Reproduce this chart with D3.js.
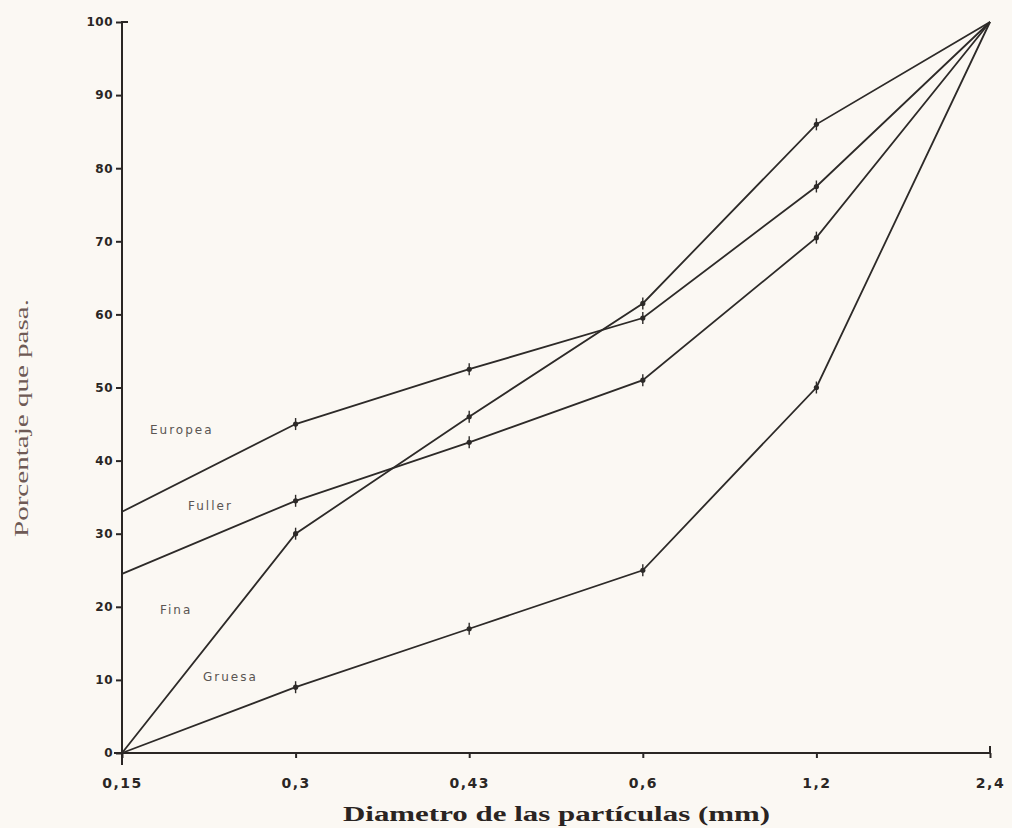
<!DOCTYPE html>
<html>
<head>
<meta charset="utf-8">
<script src="https://cdn.jsdelivr.net/npm/d3@7"></script>
<style>
  body { margin: 0; background: #fbf8f3; }
  svg { display: block; }
  .tick text { font-family: "DejaVu Sans", sans-serif; font-weight: bold; fill: #2a2624; }
  .axis path, .axis line { stroke: #2a2624; stroke-width: 2; }
  .curve-label { font-family: "DejaVu Sans", sans-serif; font-size: 12px; fill: #5a5552; letter-spacing: 2px; }
</style>
</head>
<body>
<div id="chart"></div>
<script>
// Diametro de las particulas (mm) - categorias del eje X
const diametros = ["0,15", "0,3", "0,43", "0,6", "1,2", "2,4"];
const yTicks = [0, 10, 20, 30, 40, 50, 60, 70, 80, 90, 100];

// Porcentaje que pasa, por curva
const europea = [33, 45, 52.5, 59.5, 77.5, 100];
const fuller = [24.5, 34.5, 42.5, 51, 70.5, 100];
const fina = [0, 30, 46, 61.5, 86, 100];
const gruesa = [0, 9, 17, 25, 50, 100];

const curvas = [
  { name: "Europea", values: europea, lx: 150, ly: 434 },
  { name: "Fuller", values: fuller, lx: 188, ly: 510 },
  { name: "Fina", values: fina, lx: 160, ly: 614 },
  { name: "Gruesa", values: gruesa, lx: 203, ly: 681 }
];

const width = 1012, height = 828;

const svg = d3.select("#chart").append("svg")
  .attr("width", width)
  .attr("height", height);

const x = d3.scalePoint().domain(diametros).range([122, 990]);
const y = d3.scaleLinear().domain([0, 100]).range([753, 22]);

// eje Y
const yAxis = svg.append("g")
  .attr("class", "axis")
  .attr("transform", "translate(122,0)")
  .call(d3.axisLeft(y).tickValues(yTicks).tickSize(6).tickSizeOuter(0).tickPadding(3));
yAxis.selectAll(".tick text").style("font-size", "12px").style("letter-spacing", "0.5px");
yAxis.select(".domain").remove();
yAxis.append("path")
  .attr("d", `M0,${y(0) + 12}V${y(100)}h6`)
  .attr("fill", "none")
  .attr("stroke", "#2a2624")
  .attr("stroke-width", 2.2);

// eje X
const xAxis = svg.append("g")
  .attr("class", "axis")
  .attr("transform", `translate(0,${y(0)})`)
  .call(d3.axisBottom(x).tickSize(5).tickSizeOuter(0).tickPadding(20));
xAxis.selectAll(".tick text").style("font-size", "14px").style("letter-spacing", "1.5px");
xAxis.select(".domain").remove();
xAxis.append("path")
  .attr("d", `M${x("0,15") - 8},0H${x("2,4")}v-7`)
  .attr("fill", "none")
  .attr("stroke", "#2a2624")
  .attr("stroke-width", 2.2);

// curvas granulometricas
const line = d3.line()
  .x((d, i) => x(diametros[i]))
  .y(d => y(d));

curvas.forEach(c => {
  svg.append("path")
    .datum(c.values)
    .attr("d", line)
    .attr("fill", "none")
    .attr("stroke", "#2d2a28")
    .attr("stroke-width", 1.8);

  // marcas en cada punto
  c.values.slice(1, 5).forEach((v, i) => {
    const px = x(diametros[i + 1]), py = y(v);
    svg.append("circle")
      .attr("cx", px).attr("cy", py).attr("r", 2.6)
      .attr("fill", "#2d2a28");
    svg.append("line")
      .attr("x1", px).attr("x2", px)
      .attr("y1", py - 6).attr("y2", py + 6)
      .attr("stroke", "#2d2a28")
      .attr("stroke-width", 1.4);
  });

  svg.append("text")
    .attr("class", "curve-label")
    .attr("x", c.lx)
    .attr("y", c.ly)
    .text(c.name);
});

// titulos de ejes
svg.append("text")
  .attr("x", 343)
  .attr("y", 821)
  .attr("textLength", 427)
  .attr("lengthAdjust", "spacingAndGlyphs")
  .style("font-family", "'Liberation Serif', serif")
  .style("font-weight", "bold")
  .style("font-size", "20px")
  .style("fill", "#2a2422")
  .text("Diametro de las partículas (mm)");

svg.append("text")
  .attr("transform", "translate(28,537) rotate(-90)")
  .attr("textLength", 238)
  .attr("lengthAdjust", "spacingAndGlyphs")
  .style("font-family", "'Liberation Serif', serif")
  .style("font-size", "19px")
  .style("fill", "#6e5a55")
  .text("Porcentaje que pasa.");
</script>
</body>
</html>
